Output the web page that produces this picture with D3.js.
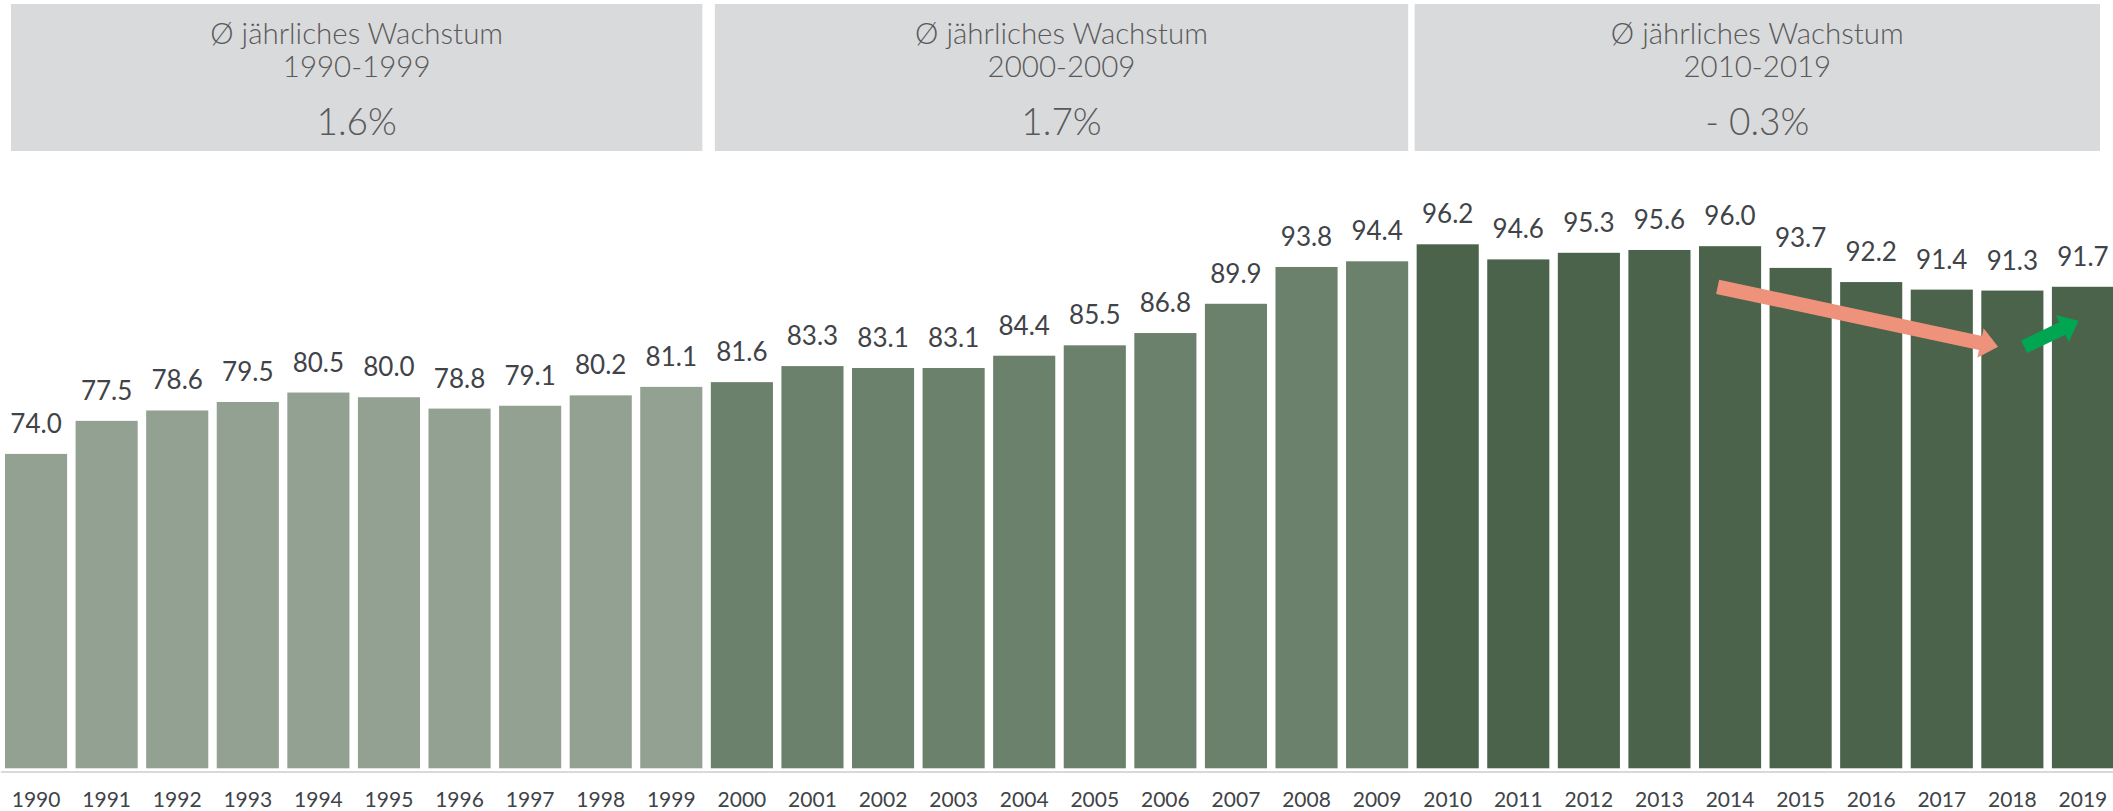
<!DOCTYPE html>
<html>
<head>
<meta charset="utf-8">
<script src="https://cdn.jsdelivr.net/npm/d3@7"></script>
<style>
  html, body { margin: 0; padding: 0; background: #ffffff; }
  #plot { width: 2113px; height: 811px; }
  text { font-family: Lato, "Open Sans", sans-serif; }
</style>
</head>
<body>
<div id="plot"></div>
<script>
// data
const years = d3.range(1990, 2020).map(String);
const values = [74.0, 77.5, 78.6, 79.5, 80.5, 80.0, 78.8, 79.1, 80.2, 81.1,
                81.6, 83.3, 83.1, 83.1, 84.4, 85.5, 86.8, 89.9, 93.8, 94.4,
                96.2, 94.6, 95.3, 95.6, 96.0, 93.7, 92.2, 91.4, 91.3, 91.7];
const decadeStart = ["1990", "2000", "2010"];
const decadeEnd = ["1999", "2009", "2019"];
const decadeLabel = ["1990-1999", "2000-2009", "2010-2019"];
const decadeGrowth = ["1.6%", "1.7%", "- 0.3%"];
const decadeColor = ["#93a193", "#6c816c", "#4a634a"];
// trend arrows: [year, offset in bar, value]
const arrowDown = [["2014", 0.3, 91.7], ["2018", 0.27, 85.35]];
const arrowUp = [["2018", 0.69, 85.35], ["2019", 0.43, 88.1]];

window.addEventListener("load", main);

function main(){
  const width = 2113, height = 811;
  const baseY = 768.3;

  let svg = d3.select("#plot").append("svg")
    .attr("width", width)
    .attr("height", height);

  let x = d3.scaleBand()
    .domain(years)
    .range([5, 2114])
    .paddingInner(0.12)
    .paddingOuter(0);

  let y = d3.scaleLinear()
    .domain([40.7, 96.2])
    .range([baseY, 244.3]);

  const decadeOf = yr => Math.floor((+yr - 1990) / 10);

  // header boxes (small insets so they sit like the original)
  const inset = [6, 4, -2];
  const boxLeft = (d, i) => x(d) + inset[i];
  const boxWidth = (d, i) => Math.min(x(decadeEnd[i]) + x.bandwidth(), 2100) - boxLeft(d, i);

  let boxes = svg.append("g").attr("id", "boxes")
    .selectAll("g")
    .data(decadeStart)
    .join("g")
    .attr("transform", (d, i) => `translate(${boxLeft(d, i)},4)`);

  boxes.append("rect")
    .attr("width", boxWidth)
    .attr("height", 147)
    .attr("fill", "#d9dadc");

  boxes.each(function(d, i){
    let g = d3.select(this);
    let w = boxWidth(d, i);
    g.append("text")
      .attr("x", w / 2).attr("y", 40)
      .attr("text-anchor", "middle")
      .attr("font-size", 29.5).attr("font-weight", 300)
      .attr("fill", "#595959")
      .text("Ø jährliches Wachstum");
    g.append("text")
      .attr("x", w / 2).attr("y", 73)
      .attr("text-anchor", "middle")
      .attr("font-size", 29.5).attr("font-weight", 300)
      .attr("fill", "#595959")
      .text(decadeLabel[i]);
    g.append("text")
      .attr("x", w / 2).attr("y", 131)
      .attr("text-anchor", "middle")
      .attr("font-size", 37).attr("font-weight", 300)
      .attr("fill", "#595959")
      .text(decadeGrowth[i]);
  });

  // bars
  svg.append("g").attr("id", "bars")
    .selectAll("rect")
    .data(years)
    .join("rect")
    .attr("x", d => x(d))
    .attr("width", x.bandwidth())
    .attr("y", (d, i) => y(values[i]))
    .attr("height", (d, i) => baseY - y(values[i]))
    .attr("fill", d => decadeColor[decadeOf(d)]);

  // value labels
  svg.append("g").attr("id", "labels")
    .selectAll("text")
    .data(years)
    .join("text")
    .attr("x", d => x(d) + x.bandwidth() / 2)
    .attr("y", (d, i) => y(values[i]) - 21)
    .attr("text-anchor", "middle")
    .attr("font-size", 26)
    .attr("fill", "#404348")
    .text((d, i) => values[i].toFixed(1));

  // x axis
  let axis = svg.append("g").attr("id", "xaxis")
    .attr("transform", "translate(0,772)")
    .call(d3.axisBottom(x).tickSize(0).tickPadding(20));
  axis.select(".domain").remove();
  axis.append("line")
    .attr("x1", 1).attr("x2", width)
    .attr("stroke", "#d9d9d9").attr("stroke-width", 2);
  axis.selectAll(".tick text")
    .attr("font-size", 21)
    .attr("font-family", "Lato, sans-serif")
    .attr("fill", "#404348");

  // arrows
  function drawArrow(pts, color, shaft, headW, headL){
    let [x0, y0] = [x(pts[0][0]) + x.bandwidth() * pts[0][1], y(pts[0][2])];
    let [x1, y1] = [x(pts[1][0]) + x.bandwidth() * pts[1][1], y(pts[1][2])];
    let len = Math.hypot(x1 - x0, y1 - y0);
    let ang = Math.atan2(y1 - y0, x1 - x0) * 180 / Math.PI;
    let s = shaft / 2, h = headW / 2, b = len - headL;
    let poly = [[0, -s], [b, -s], [b, -h], [len, 0], [b, h], [b, s], [0, s]];
    svg.append("path")
      .attr("d", d3.line()(poly) + "Z")
      .attr("fill", color)
      .attr("transform", `translate(${x0},${y0}) rotate(${ang})`);
  }
  drawArrow(arrowDown, "#ef927b", 14.5, 30, 18);
  drawArrow(arrowUp, "#00a651", 14, 30, 18);
}
</script>
</body>
</html>
